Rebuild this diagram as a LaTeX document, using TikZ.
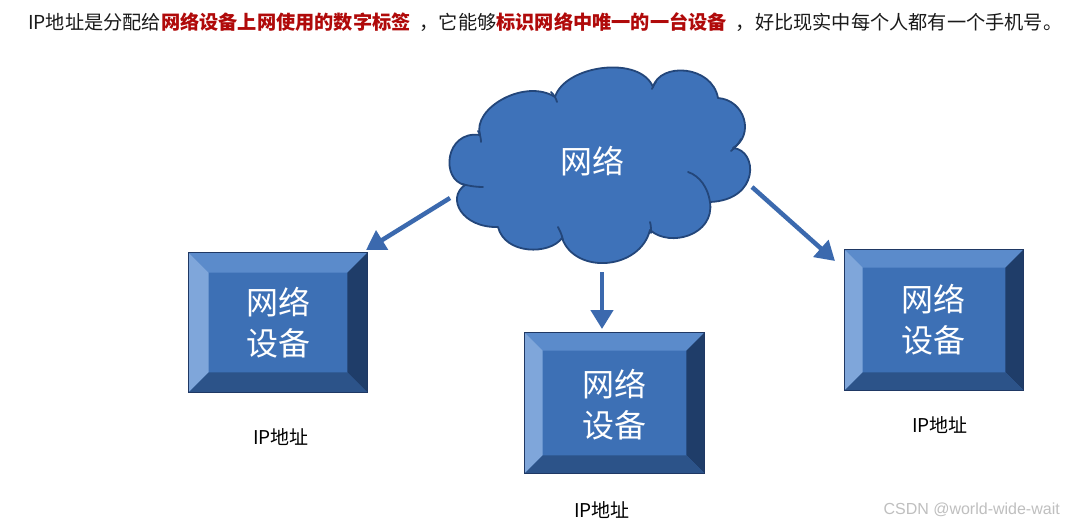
\documentclass[tikz,border=0pt]{standalone}
\usepackage{fontspec}
\setmainfont{Noto Sans CJK SC}
\newfontfamily\wmfont{Liberation Sans}
\usetikzlibrary{arrows.meta,calc}
\definecolor{boxmain}{HTML}{3D70B5}
\definecolor{bevtop}{HTML}{5B8BCB}
\definecolor{bevleft}{HTML}{7FA6DA}
\definecolor{bevright}{HTML}{1F3D69}
\definecolor{bevbot}{HTML}{2C5389}
\definecolor{boxline}{HTML}{1F3864}
\definecolor{cloudfill}{HTML}{3E72B9}
\definecolor{cloudline}{HTML}{23467A}
\definecolor{arrowblue}{HTML}{3B69AE}
\definecolor{redtxt}{HTML}{B00A0A}
\definecolor{titletxt}{HTML}{1A1A1A}
\tikzset{
  devbox/.style={rectangle, draw=boxline, line width=0.8pt, fill=boxmain, inner sep=0pt},
  devtext/.style={text=white, font=\fontsize{32}{41}\selectfont, align=center, inner sep=0pt},
  iplabel/.style={font=\fontsize{19}{22}\selectfont, text=black, inner sep=0pt},
  netarrow/.style={draw=arrowblue, line width=4.5pt, -{Triangle[length=19pt,width=22pt]}},
  cloudshape/.style={draw=cloudline, line width=1.8pt, fill=cloudfill, line join=round},
  innerarc/.style={draw=cloudline, line width=1.8pt, line cap=round},
}
\newcommand{\bevelize}[2]{% name, bevel width
  \fill[bevtop] (#1.north west) -- (#1.north east) -- ($(#1.north east)+(-#2,#2)$) -- ($(#1.north west)+(#2,#2)$) -- cycle;
  \fill[bevleft] (#1.north west) -- ($(#1.north west)+(#2,#2)$) -- ($(#1.south west)+(#2,-#2)$) -- (#1.south west) -- cycle;
  \fill[bevright] (#1.north east) -- (#1.south east) -- ($(#1.south east)+(-#2,-#2)$) -- ($(#1.north east)+(-#2,#2)$) -- cycle;
  \fill[bevbot] (#1.south west) -- ($(#1.south west)+(#2,-#2)$) -- ($(#1.south east)+(-#2,-#2)$) -- (#1.south east) -- cycle;
  \draw[boxline, line width=0.8pt] (#1.north west) rectangle (#1.south east);
}
\begin{document}
\begin{tikzpicture}[x=1pt,y=-1pt]
\useasboundingbox[fill=white] (0,0) rectangle (1069,530);
% title
\node[anchor=west, inner sep=0pt, text=titletxt, font=\fontsize{19.2}{21}\selectfont] (title) at (28,22)
  {IP地址是分配给\textcolor{redtxt}{\textbf{网络设备上网使用的数字标签}}\hspace{9pt}，它能够\textcolor{redtxt}{\textbf{标识网络中唯一的一台设备}}\hspace{9pt}，好比现实中每个人都有一个手机号。};
% cloud
\path[cloudshape] (480,135)
  .. controls (472,108) and (525,78) .. (555,97)
  .. controls (565,65) and (640,55) .. (653,87)
  .. controls (660,62) and (712,65) .. (718,98)
  .. controls (745,100) and (755,135) .. (733,148)
  .. controls (758,150) and (760,200) .. (710,202)
  .. controls (715,235) and (670,248) .. (650,230)
  .. controls (640,270) and (575,275) .. (562,238)
  .. controls (550,255) and (505,255) .. (498,227)
  .. controls (462,228) and (446,198) .. (465,185)
  .. controls (440,180) and (445,130) .. (480,135) -- cycle;
\draw[innerarc] (462,184) .. controls (469,186) and (476,187) .. (483,187);
\draw[innerarc] (478,131) .. controls (480,134) and (481,138) .. (481,142);
\draw[innerarc] (551,92) .. controls (554,95) and (556,98) .. (557,102);
\draw[innerarc] (656,82) .. controls (654,84) and (653,86) .. (652,89);
\draw[innerarc] (741,139) .. controls (739,143) and (736,147) .. (731,151);
\draw[innerarc] (688,172) .. controls (700,176) and (708,188) .. (710,202);
\draw[innerarc] (650,222) .. controls (651,225) and (651,229) .. (651,233);
\draw[innerarc] (558,227) .. controls (560,231) and (562,235) .. (563,240);
\node[text=white, font=\fontsize{32}{36}\selectfont, inner sep=0pt] (net) at (592,161) {网络};
% boxes
\node[devbox, minimum width=178pt, minimum height=139pt] (b1) at (278,322.5) {};
\bevelize{b1}{20}
\node[devtext] (t1) at (278,322.5) {网络\\设备};
\node[devbox, minimum width=179pt, minimum height=140pt] (b2) at (614.5,403) {};
\bevelize{b2}{18}
\node[devtext] (t2) at (614.5,405) {网络\\设备};
\node[devbox, minimum width=178pt, minimum height=140pt] (b3) at (934,320) {};
\bevelize{b3}{18}
\node[devtext] (t3) at (933,320) {网络\\设备};
% labels
\node[iplabel] (ip1) at (281,437) {IP地址};
\node[iplabel] (ip2) at (602,510) {IP地址};
\node[iplabel] (ip3) at (940,425) {IP地址};
% arrows
\coordinate (s1) at (450,198);
\coordinate (e1) at (366,250);
\coordinate (s2) at (602,272);
\coordinate (e2) at (602,329);
\coordinate (s3) at (752,187);
\coordinate (e3) at (835,261);
\draw[netarrow] (s1) -- (e1);
\draw[netarrow] (s2) -- (e2);
\draw[netarrow] (s3) -- (e3);
% watermark
\node[anchor=east, inner sep=0pt, text=black!25, font=\wmfont\fontsize{16}{18}\selectfont] (wm) at (1060,510) {CSDN @world-wide-wait};
\end{tikzpicture}
\end{document}
